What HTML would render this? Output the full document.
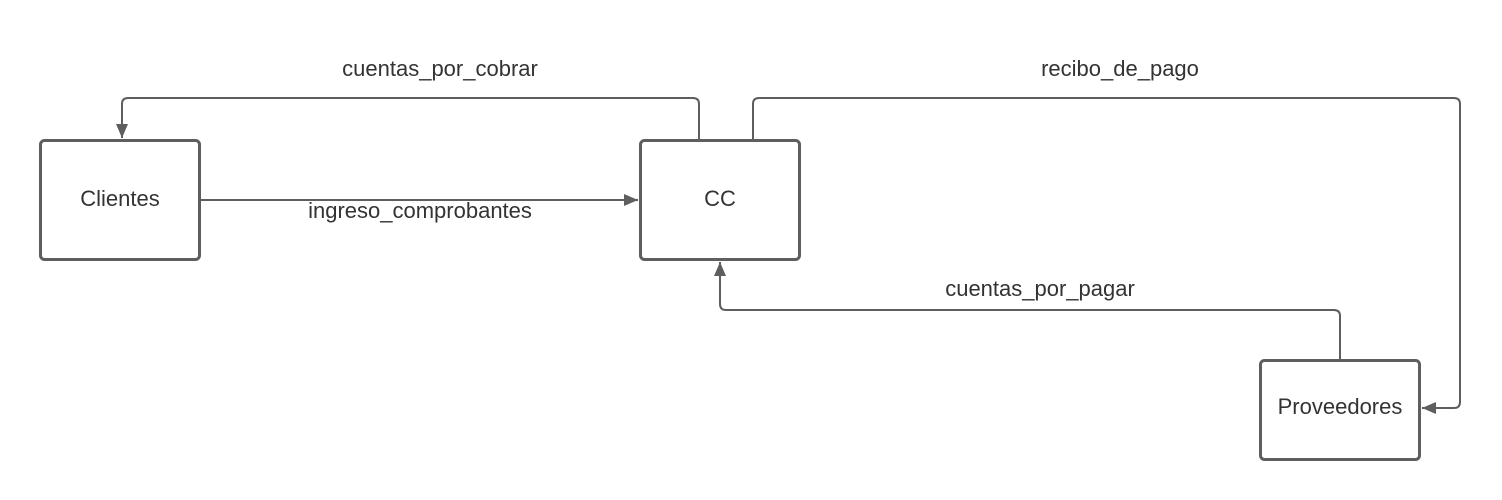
<!DOCTYPE html>
<html><head><style>body{margin:0;background:#fff}svg{display:block}text{font-family:"Liberation Sans",sans-serif;font-size:22px;fill:#333}</style></head><body>
<svg width="1502" height="500" viewBox="0 0 1502 500">
<defs>
<marker id="b" viewBox="0 0 14 12" refX="14" refY="6" markerWidth="14" markerHeight="12" markerUnits="userSpaceOnUse" orient="auto"><path d="M0,0L14,6L0,12z" fill="#5e5e5e"/></marker></defs>
<g fill="none" stroke="#5e5e5e" stroke-width="2">
<path d="M201,200H638" marker-end="url(#b)"/>
<path d="M699,139V104Q699,98 693,98H128Q122,98 122,104V138" marker-end="url(#b)"/>
<path d="M753,139V104Q753,98 759,98H1454Q1460,98 1460,104V402Q1460,408 1454,408H1422" marker-end="url(#b)"/>
<path d="M1340,359V316Q1340,310 1334,310H726Q720,310 720,304V262" marker-end="url(#b)"/>
</g>
<g fill="#fff" stroke="#5e5e5e" stroke-width="3">
<rect x="40.5" y="140.5" width="159" height="119" rx="4"/>
<rect x="640.5" y="140.5" width="159" height="119" rx="4"/>
<rect x="1260.5" y="360.5" width="159" height="99" rx="4"/>
</g>
<g text-anchor="middle">
<text x="120" y="206">Clientes</text>
<text x="720" y="206">CC</text>
<text x="1340" y="414">Proveedores</text>
<text x="440" y="76">cuentas_por_cobrar</text>
<text x="1120" y="76">recibo_de_pago</text>
<text x="420" y="218">ingreso_comprobantes</text>
<text x="1040" y="296">cuentas_por_pagar</text>
</g>
</svg>
</body></html>
